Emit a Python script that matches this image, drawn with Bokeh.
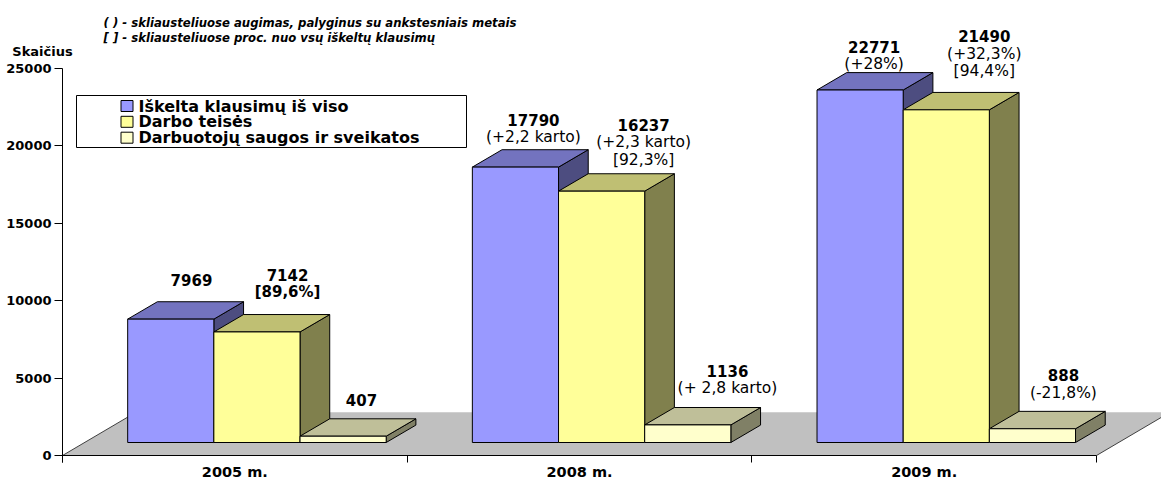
from bokeh.plotting import figure
from bokeh.models import Range1d, LinearAxis, FixedTicker, Label, ColumnDataSource
from bokeh.core.properties import value
from bokeh.embed import file_html
from bokeh.resources import INLINE

# ---- data -------------------------------------------------------------
categories = ["2005 m.", "2008 m.", "2009 m."]
series_names = ["Iškelta klausimų iš viso", "Darbo teisės", "Darbuotojų saugos ir sveikatos"]
iskelta_klausimu = [7969, 17790, 22771]
darbo_teises = [7142, 16237, 21490]
saugos_sveikatos = [407, 1136, 888]
iskelta_notes = [[], ["(+2,2 karto)"], ["(+28%)"]]
darbo_notes = [["[89,6%]"], ["(+2,3 karto)", "[92,3%]"], ["(+32,3%)", "[94,4%]"]]
saugos_notes = [[], ["(+ 2,8 karto)"], ["(-21,8%)"]]
y_ticks = [0, 5000, 10000, 15000, 20000, 25000]
y_title = "Skaičius"
header_lines = [
    "( ) - skliausteliuose augimas, palyginus su ankstesniais metais",
    "[ ] - skliausteliuose proc. nuo vsų iškeltų klausimų",
]

series_values = [iskelta_klausimu, darbo_teises, saugos_sveikatos]
series_notes = [iskelta_notes, darbo_notes, saugos_notes]

# ---- layout / style ---------------------------------------------------
W, H = 1161, 481
AXIS_X = 62                         # canvas column of the value axis (px)
BASE_PX = 455                       # canvas row of the zero line (px)
TICK_DOWN = 7                       # category separator ticks below the zero line (px)
CAT_PX = 344.67                     # pixels per category
UNIT_PX = 0.01548                   # pixels per counted question
X_START = -AXIS_X / CAT_PX
X_END = (W - AXIS_X) / CAT_PX
Y_START = -(H - BASE_PX) / UNIT_PX
Y_END = BASE_PX / UNIT_PX

FONT = "DejaVu Sans"
BAR_W = 0.25
GROUP_PAD = 0.125
FRONT_SHIFT = (22.1, 13.0)          # bar front plane, pushed back into the floor (px)
BAR_DEPTH = (29.7, 17.4)            # bar depth in projection (px)
FLOOR_DEPTH = (73.6, 43.3)          # floor depth in projection (px)

FRONT = ["#9999FF", "#FFFF99", "#FFFFCC"]
TOP = ["#7373BF", "#BFBF73", "#BFBF99"]
SIDE = ["#4D4D80", "#80804D", "#808066"]
FLOOR = "#C0C0C0"

# value-label offsets from the top of each bar's front face (px), per series / category
NUM_DX = [[20.7, 18.0, 14.0], [30.6, 42.0, 38.0], [18.4, 39.7, 31.0]]
NUM_DY = [[-39.6, -47.4, -43.5], [-57.4, -66.6, -73.8], [-35.7, -54.4, -53.3]]
NOTE_PITCH = 17.5
BOLD_NOTES = {(1, 0)}


def dx(px):
    return px / CAT_PX


def dy(px):
    return px / UNIT_PX


def cx(px_canvas):
    return (px_canvas - AXIS_X) / CAT_PX


def cy(py_canvas):
    return (BASE_PX - py_canvas) / UNIT_PX


p = figure(
    width=W, height=H,
    x_range=Range1d(X_START, X_END), y_range=Range1d(Y_START, Y_END),
    output_backend="svg", toolbar_location=None,
    x_axis_type=None, y_axis_type=None,
    min_border_left=0, min_border_right=0,
    min_border_top=0, min_border_bottom=0,
    background_fill_color="white", border_fill_color="white",
)
p.outline_line_color = None
p.xgrid.visible = False
p.ygrid.visible = False

n_cat = len(categories)

# ---- floor --------------------------------------------------------------
fdx, fdy = dx(FLOOR_DEPTH[0]), dy(FLOOR_DEPTH[1])
p.patch([0, n_cat, n_cat + fdx, fdx], [0, 0, fdy, fdy],
        fill_color=FLOOR, line_color=None)
p.multi_line([[0, fdx], [n_cat, n_cat + fdx]], [[0, fdy], [0, fdy]],
             line_color="#404040", line_width=1)

# ---- 3D bars ------------------------------------------------------------
sx0, sy0 = dx(FRONT_SHIFT[0]), dy(FRONT_SHIFT[1])
bdx, bdy = dx(BAR_DEPTH[0]), dy(BAR_DEPTH[1])

fronts = dict(xs=[], ys=[], c=[])
tops = dict(xs=[], ys=[], c=[])
sides = dict(xs=[], ys=[], c=[])
num = dict(x=[], y=[], text=[], xo=[], yo=[])
notes_n = dict(x=[], y=[], text=[], xo=[], yo=[])
notes_b = dict(x=[], y=[], text=[], xo=[], yo=[])

for i in range(n_cat):
    for j, vals in enumerate(series_values):
        v = vals[i]
        x0 = i + GROUP_PAD + BAR_W * j + sx0
        x1 = x0 + BAR_W
        y0 = sy0
        y1 = sy0 + v
        fronts["xs"].append([x0, x1, x1, x0])
        fronts["ys"].append([y0, y0, y1, y1])
        fronts["c"].append(FRONT[j])
        tops["xs"].append([x0, x1, x1 + bdx, x0 + bdx])
        tops["ys"].append([y1, y1, y1 + bdy, y1 + bdy])
        tops["c"].append(TOP[j])
        sides["xs"].append([x1, x1 + bdx, x1 + bdx, x1])
        sides["ys"].append([y0, y0 + bdy, y1 + bdy, y1])
        sides["c"].append(SIDE[j])

        xc = (x0 + x1) / 2
        num["x"].append(xc)
        num["y"].append(y1)
        num["text"].append(str(v))
        num["xo"].append(NUM_DX[j][i])
        num["yo"].append(NUM_DY[j][i])
        target = notes_b if (j, i) in BOLD_NOTES else notes_n
        for k, line in enumerate(series_notes[j][i]):
            target["x"].append(xc)
            target["y"].append(y1)
            target["text"].append(line)
            target["xo"].append(NUM_DX[j][i])
            target["yo"].append(NUM_DY[j][i] + NOTE_PITCH * (k + 1))

for d in (sides, tops, fronts):
    p.patches("xs", "ys", source=ColumnDataSource(d), fill_color="c",
              line_color="black", line_width=1, line_join="miter")

label_style = dict(text_align="center", text_baseline="middle",
                   text_font=value(FONT), text_color="black")
p.text("x", "y", text="text", x_offset="xo", y_offset="yo",
       source=ColumnDataSource(num), text_font_style="bold",
       text_font_size="15px", **label_style)
p.text("x", "y", text="text", x_offset="xo", y_offset="yo",
       source=ColumnDataSource(notes_b), text_font_style="bold",
       text_font_size="15px", **label_style)
p.text("x", "y", text="text", x_offset="xo", y_offset="yo",
       source=ColumnDataSource(notes_n), text_font_style="normal",
       text_font_size="15.5px", **label_style)

# ---- legend box -----------------------------------------------------------
p.quad(left=[cx(76)], right=[cx(466)], top=[cy(95)], bottom=[cy(147)],
       fill_color="white", line_color="black", line_width=1)
row_y = [105.5, 121.3, 137.2]
p.quad(left=[cx(120.5)] * 3, right=[cx(132.5)] * 3,
       top=[cy(r - 5.5) for r in row_y], bottom=[cy(r + 5.5) for r in row_y],
       fill_color=FRONT, line_color="black", line_width=1)
p.text([cx(138)] * 3, [cy(r) for r in row_y], text=series_names,
       text_align="left", text_baseline="middle", text_font=value(FONT),
       text_font_style="bold", text_font_size="16px", text_color="black")

# ---- header notes and value-axis title --------------------------------------
for line, base in zip(header_lines, [22.7, 37.7]):
    p.add_layout(Label(x=cx(103), y=cy(base), text=line, text_align="left",
                       text_baseline="alphabetic", text_font=FONT,
                       text_font_style="bold italic", text_font_size="11.7px",
                       text_color="black"))
p.add_layout(Label(x=cx(42), y=cy(50.7), text=y_title, text_align="center",
                   text_baseline="alphabetic", text_font=FONT,
                   text_font_style="bold", text_font_size="13px",
                   text_color="black"))

# ---- axes (pinned inside the frame at the data origin) -------------------------
yaxis = LinearAxis(ticker=FixedTicker(ticks=y_ticks), fixed_location=0,
                   bounds=(-dy(TICK_DOWN), y_ticks[-1]))
yaxis.major_tick_out = 8
yaxis.major_tick_in = 0
yaxis.minor_tick_out = 0
yaxis.major_label_standoff = 3
yaxis.major_label_text_font = FONT
yaxis.major_label_text_font_style = "bold"
yaxis.major_label_text_font_size = "13px"
yaxis.major_label_text_color = "black"
yaxis.axis_line_color = "black"
yaxis.major_tick_line_color = "black"
p.add_layout(yaxis, "left")

centers = [i + 0.5 for i in range(n_cat)]
xaxis = LinearAxis(ticker=FixedTicker(ticks=centers, minor_ticks=list(range(n_cat + 1))),
                   fixed_location=0, bounds=(0, n_cat))
xaxis.major_label_overrides = {c: name for c, name in zip(centers, categories)}
xaxis.axis_line_color = "black"
xaxis.major_tick_line_color = None
xaxis.major_tick_out = TICK_DOWN
xaxis.major_tick_in = 0
xaxis.minor_tick_line_color = "black"
xaxis.minor_tick_out = TICK_DOWN
xaxis.minor_tick_in = 0
xaxis.major_label_standoff = 1
xaxis.major_label_text_font = FONT
xaxis.major_label_text_font_style = "bold"
xaxis.major_label_text_font_size = "14.5px"
xaxis.major_label_text_color = "black"
p.add_layout(xaxis, "below")

open("out.html", "w").write(file_html(p, INLINE))
